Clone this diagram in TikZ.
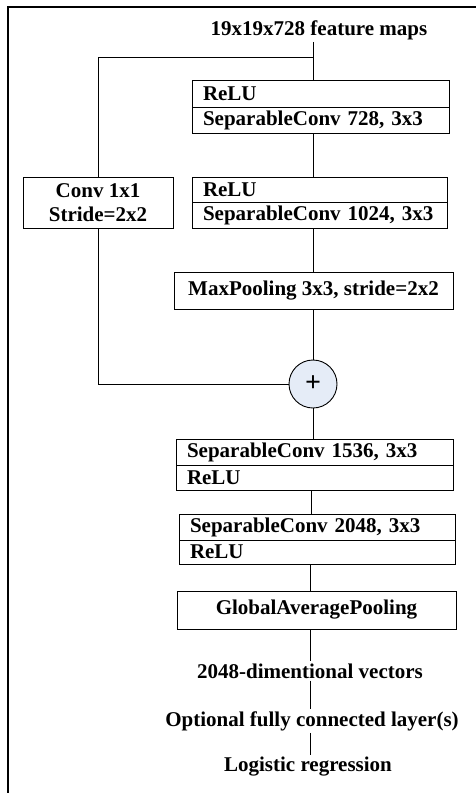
\documentclass[tikz,border=0pt]{standalone}
\usepackage{fontspec}
\setmainfont{Liberation Serif}
\begin{document}
\begin{tikzpicture}[x=1pt,y=-1pt,
  every node/.style={font=\fontsize{21}{24}\selectfont\bfseries},
  row/.style={draw,line width=0.9pt,inner xsep=11pt,inner ysep=0pt,align=left,anchor=center},
  cbox/.style={draw,line width=0.9pt,inner sep=0pt,align=center},
  lbl/.style={inner sep=2pt},
  conn/.style={line width=0.9pt}]
\useasboundingbox (0,0) rectangle (476,793);
\draw[line width=1.4pt] (8,793) -- (8,7) -- (476,7);
% nodes
\node[lbl] (title) at (319,30) {19x19x728 feature maps};
\node[row,minimum width=257,text width=235,minimum height=27] (r1a) at (320.5,93.5) {ReLU};
\node[row,minimum width=257,text width=235,minimum height=26] (r1b) at (320.5,120) {SeparableConv 728, 3x3};
\node[row,minimum width=255,text width=233,minimum height=25] (r2a) at (319.5,189.5) {ReLU};
\node[row,minimum width=255,text width=233,minimum height=26] (r2b) at (319.5,215) {SeparableConv 1024, 3x3};
\node[cbox,minimum width=150,minimum height=51] (conv) at (98,202.5) {Conv 1x1\\Stride=2x2};
\node[cbox,minimum width=279,minimum height=37] (mp) at (313.5,290.5) {MaxPooling 3x3, stride=2x2};
\node[draw,circle,line width=0.9pt,fill={rgb,255:red,229;green,236;blue,247},minimum size=48,inner sep=0pt,font=\fontsize{28}{30}\selectfont\bfseries] (plus) at (313,384) {+};
\node[row,minimum width=277,text width=255,minimum height=26] (r3a) at (314.5,452) {SeparableConv 1536, 3x3};
\node[row,minimum width=277,text width=255,minimum height=25] (r3b) at (314.5,477.5) {ReLU};
\node[row,minimum width=276,text width=254,minimum height=26] (r4a) at (317,527) {SeparableConv 2048, 3x3};
\node[row,minimum width=276,text width=254,minimum height=24] (r4b) at (317,552) {ReLU};
\node[cbox,minimum width=279,minimum height=38] (gap) at (316.5,610) {GlobalAveragePooling};
\node[lbl] (vec) at (310,671) {2048-dimentional vectors};
\node[lbl] (fc) at (312,721) {Optional fully connected layer(s)};
\node[lbl] (lr) at (308,767) {Logistic regression};
% connectors
\coordinate (split) at (313,57);
\draw[conn] (title.south -| split) -- (r1a.north -| split);
\draw[conn] (split) -| (conv.north);
\draw[conn] (r1b.south -| split) -- (r2a.north -| split);
\draw[conn] (r2b.south -| split) -- (mp.north -| split);
\draw[conn] (mp.south -| plus) -- (plus.north);
\draw[conn] (conv.south) |- (plus.west);
\draw[conn] (plus.south) -- (r3a.north -| plus);
\coordinate (c2) at (311,500);
\draw[conn] (r3b.south -| c2) -- (r4a.north -| c2);
\coordinate (c3) at (310,600);
\draw[conn] (r4b.south -| c3) -- (gap.north -| c3);
\draw[conn] (gap.south -| c3) -- (vec.north -| c3);
\draw[conn] (vec.south -| c3) -- (fc.north -| c3);
\draw[conn] (fc.south -| c3) -- (lr.north -| c3);
\end{tikzpicture}
\end{document}
